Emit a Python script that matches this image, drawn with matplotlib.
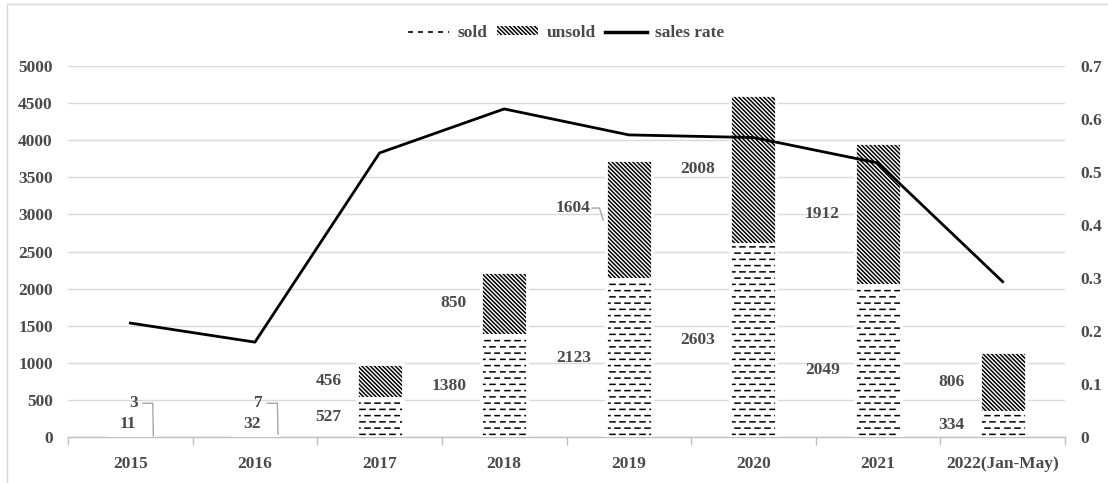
import matplotlib
matplotlib.use("Agg")
import matplotlib.pyplot as plt
import numpy as np
from matplotlib import hatch as mhatch
from matplotlib.path import Path
from matplotlib.lines import Line2D
from matplotlib.patches import Patch, Rectangle

# ---------------- data ----------------
years = ["2015", "2016", "2017", "2018", "2019", "2020", "2021", "2022(Jan-May)"]
sold = [11, 32, 527, 1380, 2123, 2603, 2049, 334]
unsold = [3, 7, 456, 850, 1604, 2008, 1912, 806]
sales_rate = [0.215, 0.179, 0.536, 0.619, 0.570, 0.565, 0.517, 0.293]
left_ticks = [0, 500, 1000, 1500, 2000, 2500, 3000, 3500, 4000, 4500, 5000]
right_ticks = [0, 0.1, 0.2, 0.3, 0.4, 0.5, 0.6, 0.7]
right_tick_labels = ["0", "0.1", "0.2", "0.3", "0.4", "0.5", "0.6", "0.7"]


# ---------------- custom dashed hatch (replaces '.') ----------------
class DashRows(mhatch.HatchPatternBase):
    def __init__(self, hatch, density):
        self.rows = 16 if '.' in hatch else 0
        self.dashes = 10
        self.num_vertices = self.rows * self.dashes * 2

    def set_vertices_and_codes(self, vertices, codes):
        idx = 0
        for r in range(self.rows):
            y = (r + 0.5) / self.rows
            off = 0.0 if r % 2 == 0 else 0.5
            for k in range(self.dashes):
                x0 = (k + off) / self.dashes
                x1 = x0 + 0.5 / self.dashes
                vertices[idx] = (x0, y)
                vertices[idx + 1] = (x1, y)
                codes[idx] = Path.MOVETO
                codes[idx + 1] = Path.LINETO
                idx += 2


mhatch._hatch_types = [t for t in mhatch._hatch_types
                       if t.__name__ != 'SmallFilledCircles'] + [DashRows]

plt.rcParams['font.family'] = ['Liberation Serif', 'DejaVu Serif']
plt.rcParams['font.weight'] = 'bold'
plt.rcParams['hatch.linewidth'] = 1.1

TXT = '#4a4a4a'
GRID = '#d9d9d9'
UNSOLD_HATCH = '\\' * 8

fig = plt.figure(figsize=(11.08, 4.83), dpi=100)
ax = fig.add_axes([68 / 1108, 1 - 437 / 483, (1065 - 68) / 1108, (437 - 66) / 483])
ax2 = ax.twinx()

x = np.arange(len(years))
w = 0.37

ax.set_ylim(0, 5000)
ax.set_xlim(-0.5, len(years) - 0.5)
ax2.set_ylim(0, 0.7)

ax.set_yticks(left_ticks)
ax.set_yticklabels([str(v) for v in left_ticks])
ax2.set_yticks(right_ticks)
ax2.set_yticklabels(right_tick_labels)

ax.grid(axis='y', color=GRID, linewidth=1.0, zorder=0)
ax.set_axisbelow(True)

# bars: hatch layer
ax.bar(x, sold, width=w, color='white', edgecolor='black', linewidth=0, hatch='.', zorder=2)
ax.bar(x, unsold, width=w, bottom=sold, color='white', edgecolor='black', linewidth=0,
       hatch=UNSOLD_HATCH, zorder=2)
# white outlines to give gaps
ax.bar(x, sold, width=w, facecolor='none', edgecolor='white', linewidth=2.0, zorder=3)
ax.bar(x, unsold, width=w, bottom=sold, facecolor='none', edgecolor='white', linewidth=2.0, zorder=3)

# line
ax2.plot(x, sales_rate, color='black', linewidth=2.0, zorder=5)
ax2.set_zorder(ax.get_zorder() + 1)
ax2.patch.set_visible(False)

# spines and ticks
for a in (ax, ax2):
    for s in ['top', 'left', 'right']:
        a.spines[s].set_visible(False)
ax2.spines['bottom'].set_visible(False)
ax.spines['bottom'].set_color('#bfbfbf')
ax.spines['bottom'].set_linewidth(1.0)

FS = 12.5
ax.set_xticks(x)
ax.set_xticklabels(years)
ax.set_xticks(np.arange(-0.5, len(years), 1.0), minor=True)
ax.tick_params(axis='x', which='major', length=0, pad=14, labelsize=FS, labelcolor=TXT)
ax.tick_params(axis='x', which='minor', length=6, color='#bfbfbf', width=1.0)
ax.tick_params(axis='y', length=0, pad=11, labelsize=FS, labelcolor=TXT)
ax2.tick_params(axis='y', length=0, pad=11, labelsize=FS, labelcolor=TXT)

# data labels
gap = 0.12
lab_kw = dict(ha='right', va='center', fontsize=FS, color=TXT, fontweight='bold', zorder=6)
for i in range(2, len(years)):
    xl = x[i] - w / 2 - gap
    ys = sold[i] / 2
    yu = sold[i] + unsold[i] / 2
    if i == 4:
        yu += 160
    if i == 6:
        ys -= 120
    ax.text(xl, ys, str(sold[i]), **lab_kw)
    ax.text(xl, yu, str(unsold[i]), **lab_kw)

# leader line for 2019 unsold label
lead = '#a6a6a6'
i = 4
ax.plot([x[i] - w / 2 - 0.11, x[i] - w / 2 - 0.05, x[i] - w / 2 - 0.02],
        [sold[i] + unsold[i] / 2 + 160, sold[i] + unsold[i] / 2 + 160, sold[i] + unsold[i] / 2],
        color=lead, linewidth=1.0, zorder=4)

# 2015 / 2016 small values with leader lines
for i in (0, 1):
    ax.text(x[i] + 0.03, 455, str(unsold[i]), ha='center', va='center', fontsize=FS,
            color=TXT, fontweight='bold', zorder=6)
    ax.text(x[i] - 0.02, 180, str(sold[i]), ha='center', va='center', fontsize=FS,
            color=TXT, fontweight='bold', zorder=6)
    ax.plot([x[i] + 0.10, x[i] + 0.18, x[i] + w / 2],
            [455, 455, sold[i] + unsold[i]],
            color=lead, linewidth=1.0, zorder=4)

# legend
handles = [
    Line2D([0], [0], color='black', linewidth=1.2, linestyle=(0, (3, 3))),
    Patch(facecolor='white', edgecolor='black', linewidth=0, hatch=UNSOLD_HATCH),
    Line2D([0], [0], color='black', linewidth=2.5),
]
leg = fig.legend(handles, ['sold', 'unsold', 'sales rate'], loc='center',
                 bbox_to_anchor=(566 / 1108, 1 - 33 / 483), ncol=3, frameon=False,
                 fontsize=FS, handlelength=2.4, handleheight=0.4, handletextpad=0.5,
                 columnspacing=0.5)
for t in leg.get_texts():
    t.set_color(TXT)
    t.set_fontweight('bold')

# outer border (only left and top edges fall inside the image)
fig.patches.append(Rectangle((7 / 1108, -0.05), 1.2, (483 - 4) / 483 + 0.05,
                             transform=fig.transFigure, fill=False, edgecolor='#d9d9d9',
                             linewidth=1.0))

fig.savefig('out.png', dpi=100)
